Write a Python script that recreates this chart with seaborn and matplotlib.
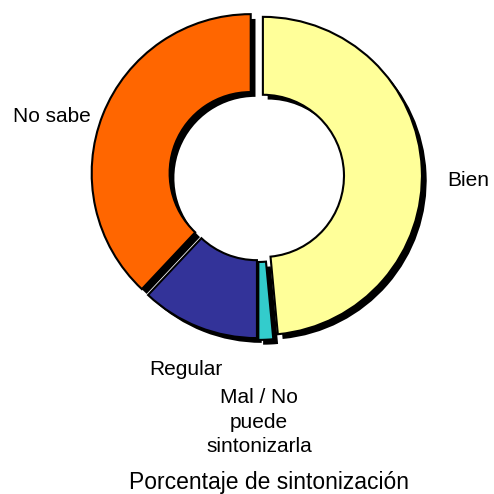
import matplotlib
matplotlib.use("Agg")
import matplotlib.pyplot as plt
import seaborn as sns

categories = ["Bien", "Mal / No\npuede\nsintonizarla", "Regular", "No sabe"]
values = [48.5, 1.5, 12.0, 38.0]
colors = ["#FFFF99", "#33CCCC", "#333399", "#FF6600"]
explode = [0.03, 0.03, 0.02, 0.05]
title = "Porcentaje de sintonización"

sns.set_theme(style="white")
plt.rcParams["font.family"] = ["Liberation Sans", "DejaVu Sans"]

W = 494
fig = plt.figure(figsize=(W / 100, W / 100), dpi=100)
ax = fig.add_axes([0.104, 0.225, 0.837, 0.837])

pal = sns.color_palette(colors)
wedge_w = 0.49

# shadow
ax.pie(values, startangle=90, counterclock=False, explode=explode,
       colors=["black"] * len(values), center=(0.03, -0.03), radius=1.0,
       wedgeprops=dict(width=wedge_w, linewidth=0), frame=True)
# main donut
ax.pie(values, startangle=90, counterclock=False, explode=explode,
       colors=pal, radius=1.0,
       wedgeprops=dict(width=wedge_w, edgecolor="black", linewidth=1.5), frame=True)
ax.set_xlim(-1.3, 1.3)
ax.set_ylim(-1.3, 1.3)
ax.set_aspect("equal")
ax.axis("off")

def ftext(x, y, s, size=15, **kw):
    fig.text(x / W, 1 - y / W, s, fontsize=size, color="black", **kw)

ftext(447, 180, categories[0], ha="left", va="center")
ftext(259, 422, categories[1], ha="center", va="center", linespacing=1.35)
ftext(186, 369, categories[2], ha="center", va="center")
ftext(52, 116, categories[3], ha="center", va="center")
ftext(269, 482, title, size=16.5, ha="center", va="center")

fig.savefig("out.png", dpi=100, facecolor="white")
